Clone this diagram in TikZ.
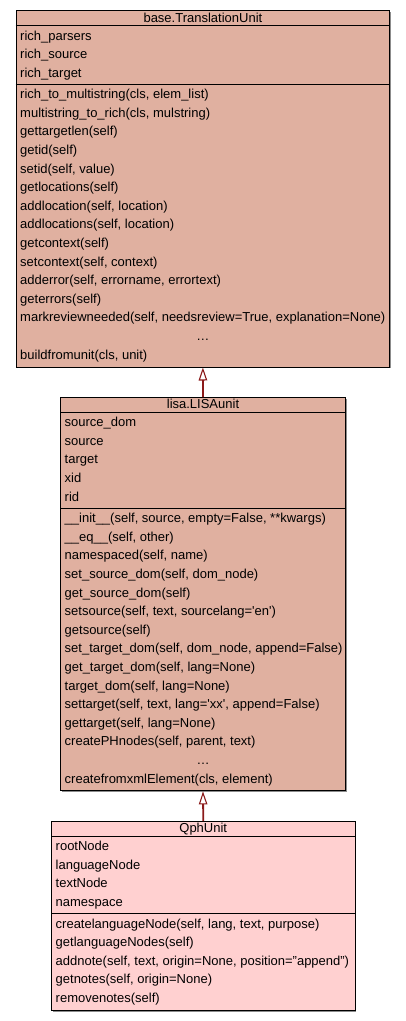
\documentclass[tikz,border=0pt]{standalone}
\usepackage{fontspec}
\setmainfont{Liberation Sans}
\usetikzlibrary{arrows.meta,shadows}

\definecolor{basefill}{HTML}{E0B0A0}
\definecolor{leaffill}{HTML}{FFD0D0}
\definecolor{inherit}{HTML}{8B1A1A}

\tikzset{
  classbox/.style={draw=black, line width=1pt, inner sep=0pt, anchor=north west,
    drop shadow={shadow xshift=1.2pt, shadow yshift=-1.2pt, fill=black!45, opacity=1}},
  member/.style={anchor=base west, inner sep=0pt, font=\fontsize{13}{15}\selectfont},
  caption/.style={anchor=base, inner sep=0pt, font=\fontsize{13}{15}\selectfont},
  divider/.style={line width=1pt},
  extends/.style={draw=inherit, line width=1.8pt,
    -{Triangle[open, length=13pt, width=8.5pt, line width=1.1pt, fill=white]}},
}

% rows of a compartment: node prefix, x, baseline of the first row,
% index of the first listed row, list of texts
\newcommand{\memberrows}[5]{%
  \foreach \t [count=\i from #4] in {#5}{%
    \node[member] (#1\i) at (#2, {#3-(\i-1)*18.6}) {\t};}}

\begin{document}
\begin{tikzpicture}[x=1pt,y=1pt]
\useasboundingbox (0,0) rectangle (405,-1021);

% ---------------- base.TranslationUnit ----------------
\node[classbox, fill=basefill, minimum width=373.8pt, minimum height=356.2pt] (tu) at (15.5,-10.3) {};
\draw[divider] ([yshift=-15.6pt]tu.north west) -- ([yshift=-15.6pt]tu.north east);
\draw[divider] ([yshift=-74.3pt]tu.north west) -- ([yshift=-74.3pt]tu.north east);
\node[caption] (tu-title) at ([yshift=-11.7pt]tu.north) {base.TranslationUnit};
\memberrows{tu-a}{20}{-40.0}{1}{{rich\_parsers},{rich\_source},{rich\_target}}
\memberrows{tu-m}{20}{-98.7}{1}{%
  {rich\_to\_multistring(cls, elem\_list)},
  {multistring\_to\_rich(cls, mulstring)},
  {gettargetlen(self)},
  {getid(self)},
  {setid(self, value)},
  {getlocations(self)},
  {addlocation(self, location)},
  {addlocations(self, location)},
  {getcontext(self)},
  {setcontext(self, context)},
  {adderror(self, errorname, errortext)},
  {geterrors(self)},
  {markreviewneeded(self, needsreview=True, explanation=None)}}
\node[caption] (tu-more) at ([yshift={-98.7pt-13*18.6pt+10.3pt}]tu.north) {\dots};
\memberrows{tu-m}{20}{-98.7}{15}{{buildfromunit(cls, unit)}}

% ---------------- lisa.LISAunit ----------------
\node[classbox, fill=basefill, minimum width=285pt, minimum height=393.4pt] (lisa) at (60,-397) {};
\draw[divider] ([yshift=-15.6pt]lisa.north west) -- ([yshift=-15.6pt]lisa.north east);
\draw[divider] ([yshift=-111.5pt]lisa.north west) -- ([yshift=-111.5pt]lisa.north east);
\node[caption] (lisa-title) at ([yshift=-11.7pt]lisa.north) {lisa.LISAunit};
\memberrows{lisa-a}{64.5}{-426.7}{1}{{source\_dom},{source},{target},{xid},{rid}}
\memberrows{lisa-m}{64.5}{-522.6}{1}{%
  {\_\_init\_\_(self, source, empty=False, **kwargs)},
  {\_\_eq\_\_(self, other)},
  {namespaced(self, name)},
  {set\_source\_dom(self, dom\_node)},
  {get\_source\_dom(self)},
  {setsource(self, text, sourcelang=\textquotesingle en\textquotesingle)},
  {getsource(self)},
  {set\_target\_dom(self, dom\_node, append=False)},
  {get\_target\_dom(self, lang=None)},
  {target\_dom(self, lang=None)},
  {settarget(self, text, lang=\textquotesingle xx\textquotesingle, append=False)},
  {gettarget(self, lang=None)},
  {createPHnodes(self, parent, text)}}
\node[caption] (lisa-more) at ([yshift={-522.6pt-13*18.6pt+397pt}]lisa.north) {\dots};
\memberrows{lisa-m}{64.5}{-522.6}{15}{{createfromxmlElement(cls, element)}}

% ---------------- QphUnit ----------------
\node[classbox, fill=leaffill, minimum width=303.5pt, minimum height=188.8pt] (qph) at (51,-821) {};
\draw[divider] ([yshift=-15.6pt]qph.north west) -- ([yshift=-15.6pt]qph.north east);
\draw[divider] ([yshift=-92.9pt]qph.north west) -- ([yshift=-92.9pt]qph.north east);
\node[caption] (qph-title) at ([yshift=-11.7pt]qph.north) {QphUnit};
\memberrows{qph-a}{55.5}{-850.7}{1}{{rootNode},{languageNode},{textNode},{namespace}}
\memberrows{qph-m}{55.5}{-928.0}{1}{%
  {createlanguageNode(self, lang, text, purpose)},
  {getlanguageNodes(self)},
  {addnote(self, text, origin=None, position="append")},
  {getnotes(self, origin=None)},
  {removenotes(self)}}

% ---------------- inheritance ----------------
\draw[extends] (lisa.north) -- (tu.south);
\draw[extends] (qph.north) -- (lisa.north |- lisa.south);
\end{tikzpicture}
\end{document}
